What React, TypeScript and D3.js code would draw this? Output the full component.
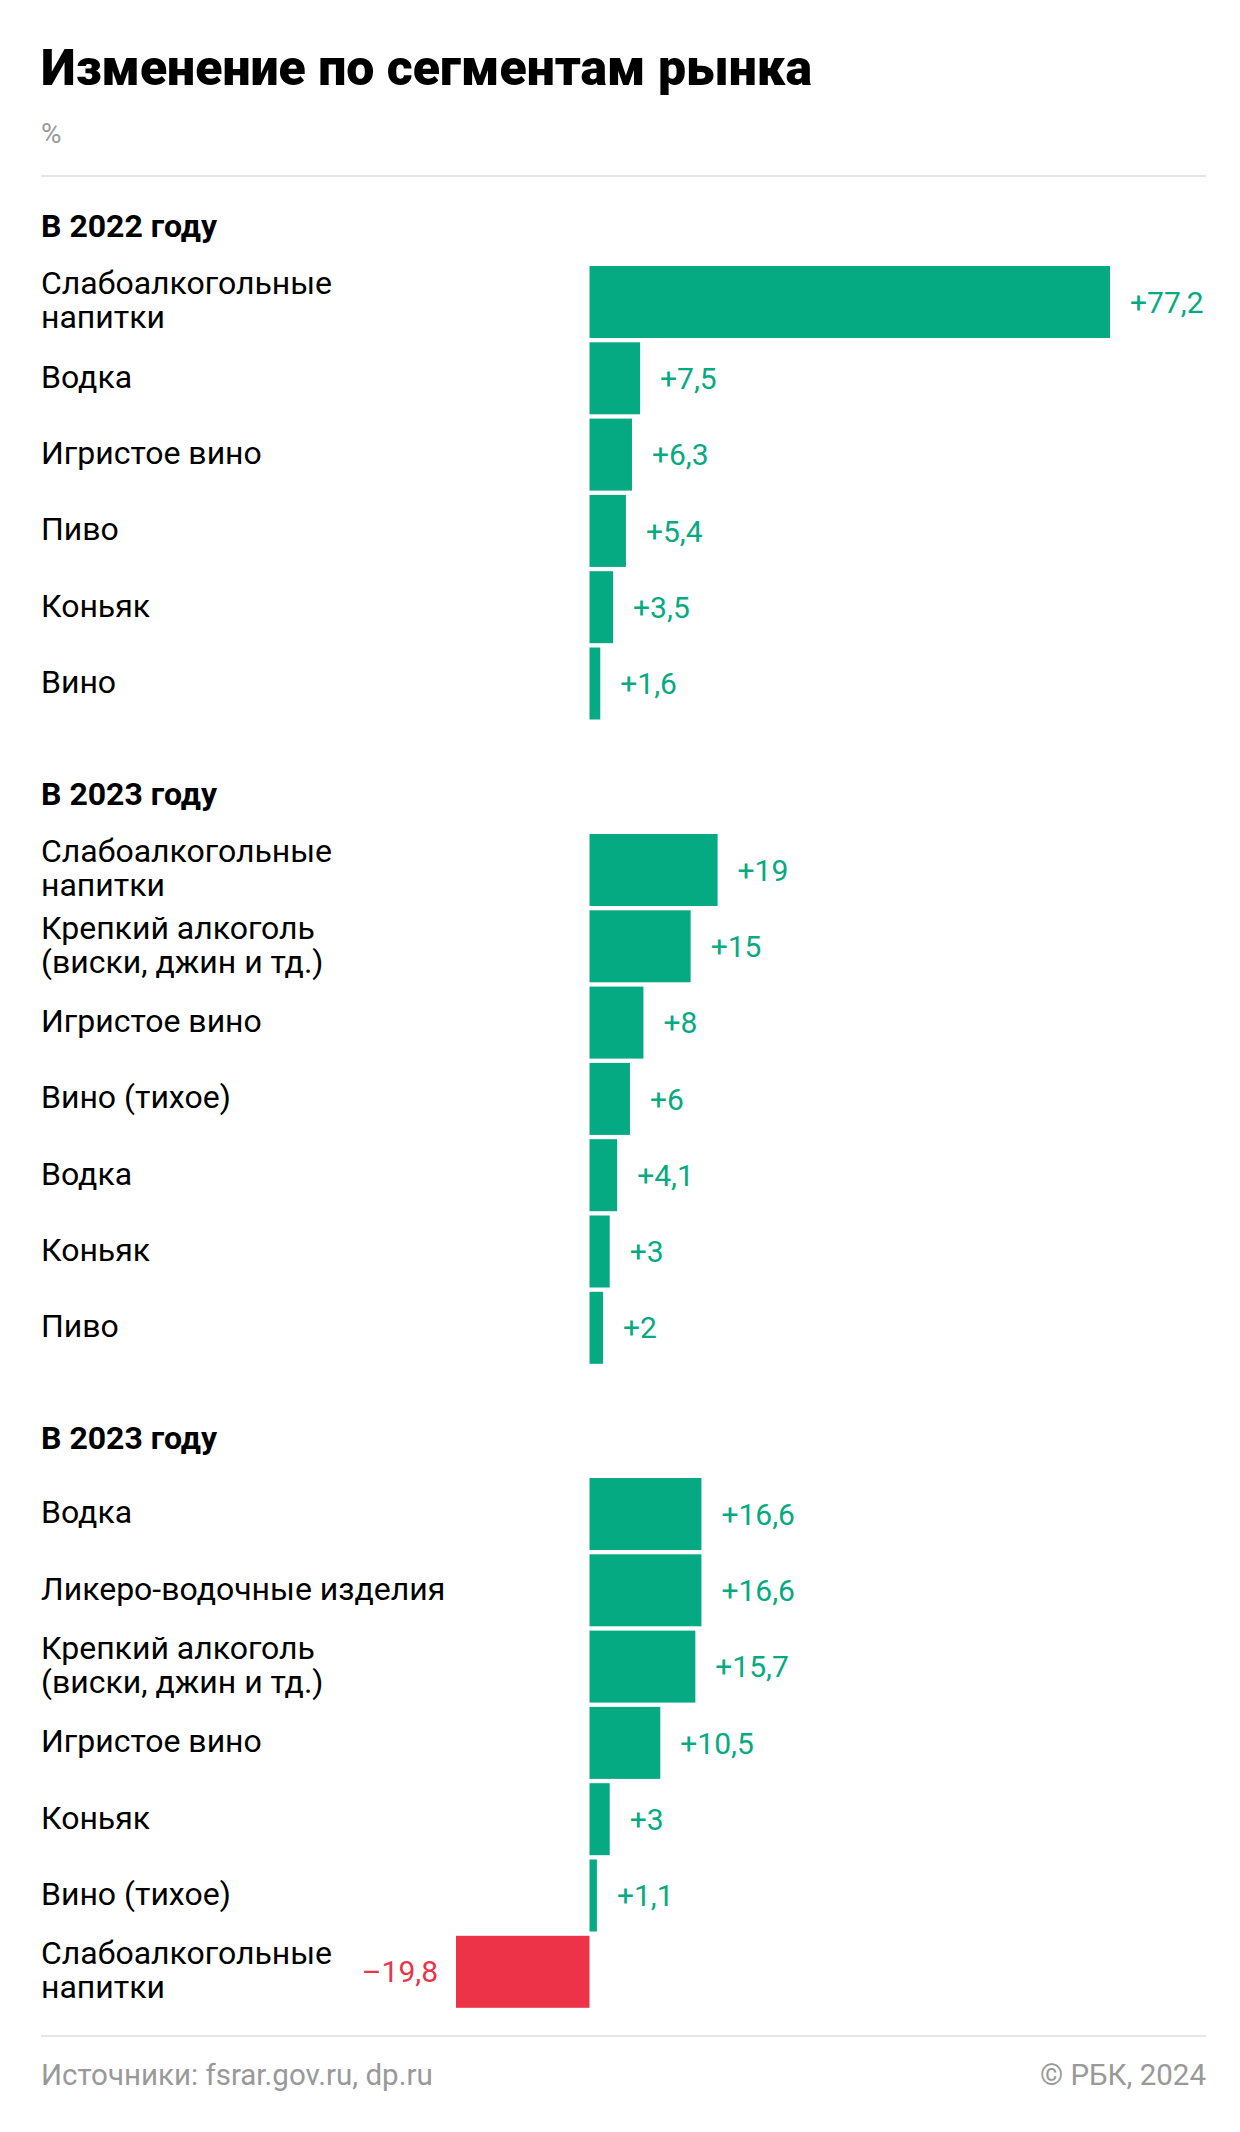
import React from "react";
import * as d3 from "d3";

const TITLE = "Изменение по сегментам рынка";
const UNIT = "%";
const SOURCE = "Источники: fsrar.gov.ru, dp.ru";
const CREDIT = "© РБК, 2024";

const sectionTitles = ["В 2022 году", "В 2023 году", "В 2023 году"];

const categories2022 = [
  "Слабоалкогольные\nнапитки",
  "Водка",
  "Игристое вино",
  "Пиво",
  "Коньяк",
  "Вино",
];
const values2022 = [77.2, 7.5, 6.3, 5.4, 3.5, 1.6];

const categories2023a = [
  "Слабоалкогольные\nнапитки",
  "Крепкий алкоголь\n(виски, джин и тд.)",
  "Игристое вино",
  "Вино (тихое)",
  "Водка",
  "Коньяк",
  "Пиво",
];
const values2023a = [19, 15, 8, 6, 4.1, 3, 2];

const categories2023b = [
  "Водка",
  "Ликеро-водочные изделия",
  "Крепкий алкоголь\n(виски, джин и тд.)",
  "Игристое вино",
  "Коньяк",
  "Вино (тихое)",
  "Слабоалкогольные\nнапитки",
];
const values2023b = [16.6, 16.6, 15.7, 10.5, 3, 1.1, -19.8];

const W = 1240;
const H = 2132;
const LEFT = 41;
const RIGHT = 1206;
const STEP = 76.3;
const BAR_H = 72;
const GREEN = "#06aa82";
const RED = "#ec3347";
const FONT = "Roboto, 'Noto Sans', sans-serif";

const sectionStarts = [266, 834, 1478];

const sections = [
  { title: sectionTitles[0], cats: categories2022, vals: values2022 },
  { title: sectionTitles[1], cats: categories2023a, vals: values2023a },
  { title: sectionTitles[2], cats: categories2023b, vals: values2023b },
];

const allVals = [...values2022, ...values2023a, ...values2023b];
const x = d3
  .scaleLinear()
  .domain([d3.min(allVals) as number, d3.max(allVals) as number])
  .range([456, 1110]);

const fmt = (v: number) =>
  (v > 0 ? "+" : "–") + String(Math.abs(v)).replace(".", ",");

const LABEL_FS = 32;
const VALUE_FS = 30;
const LINE_GAP = 34;

export default function App() {
  return (
    <div style={{ position: "absolute", left: 0, top: 0 }}>
      <svg width={W} height={H} viewBox={`0 0 ${W} ${H}`} style={{ display: "block", background: "#fff" }}>
        <rect x={0} y={0} width={W} height={H} fill="#fff" />
        <text x={LEFT} y={85} fontFamily={FONT} fontWeight={900} fontSize={50} fill="#000">
          {TITLE}
        </text>
        <text x={LEFT} y={143} fontFamily={FONT} fontSize={28} fill="#999">
          {UNIT}
        </text>
        <line x1={LEFT} x2={RIGHT} y1={176} y2={176} stroke="#e6e6e6" strokeWidth={2} />

        {sections.map((s, si) => {
          const start = sectionStarts[si];
          const n = s.cats.length;
          const y = d3
            .scaleBand<number>()
            .domain(d3.range(n))
            .range([start, start + n * STEP - (STEP - BAR_H)])
            .paddingInner((STEP - BAR_H) / STEP)
            .paddingOuter(0);
          return (
            <g key={si}>
              <text x={LEFT} y={start - 29} fontFamily={FONT} fontWeight={700} fontSize={32} fill="#000">
                {s.title}
              </text>
              {s.vals.map((v, i) => {
                const y0 = y(i) as number;
                const bh = y.bandwidth();
                const cy = y0 + bh / 2;
                const lines = s.cats[i].split("\n");
                const cap = LABEL_FS * 0.355;
                const pos = v >= 0;
                return (
                  <g key={i}>
                    <rect
                      x={Math.min(x(0), x(v))}
                      y={y0}
                      width={Math.abs(x(v) - x(0))}
                      height={bh}
                      fill={pos ? GREEN : RED}
                    />
                    <text fontFamily={FONT} fontSize={LABEL_FS} fill="#000">
                      {lines.map((ln, li) => (
                        <tspan
                          key={li}
                          x={LEFT}
                          y={cy + cap - 2 + (li - (lines.length - 1) / 2) * LINE_GAP}
                        >
                          {ln}
                        </tspan>
                      ))}
                    </text>
                    <text
                      x={pos ? x(v) + 20 : x(v) - 18}
                      y={cy + VALUE_FS * 0.355}
                      textAnchor={pos ? "start" : "end"}
                      fontFamily={FONT}
                      fontSize={VALUE_FS}
                      fill={pos ? GREEN : RED}
                    >
                      {fmt(v)}
                    </text>
                  </g>
                );
              })}
            </g>
          );
        })}

        <line x1={LEFT} x2={RIGHT} y1={2036} y2={2036} stroke="#e6e6e6" strokeWidth={2} />
        <text x={LEFT} y={2085} fontFamily={FONT} fontSize={29.5} fill="#999">
          {SOURCE}
        </text>
        <text x={RIGHT} y={2085} textAnchor="end" fontFamily={FONT} fontSize={29.5} fill="#999">
          {CREDIT}
        </text>
      </svg>
    </div>
  );
}
